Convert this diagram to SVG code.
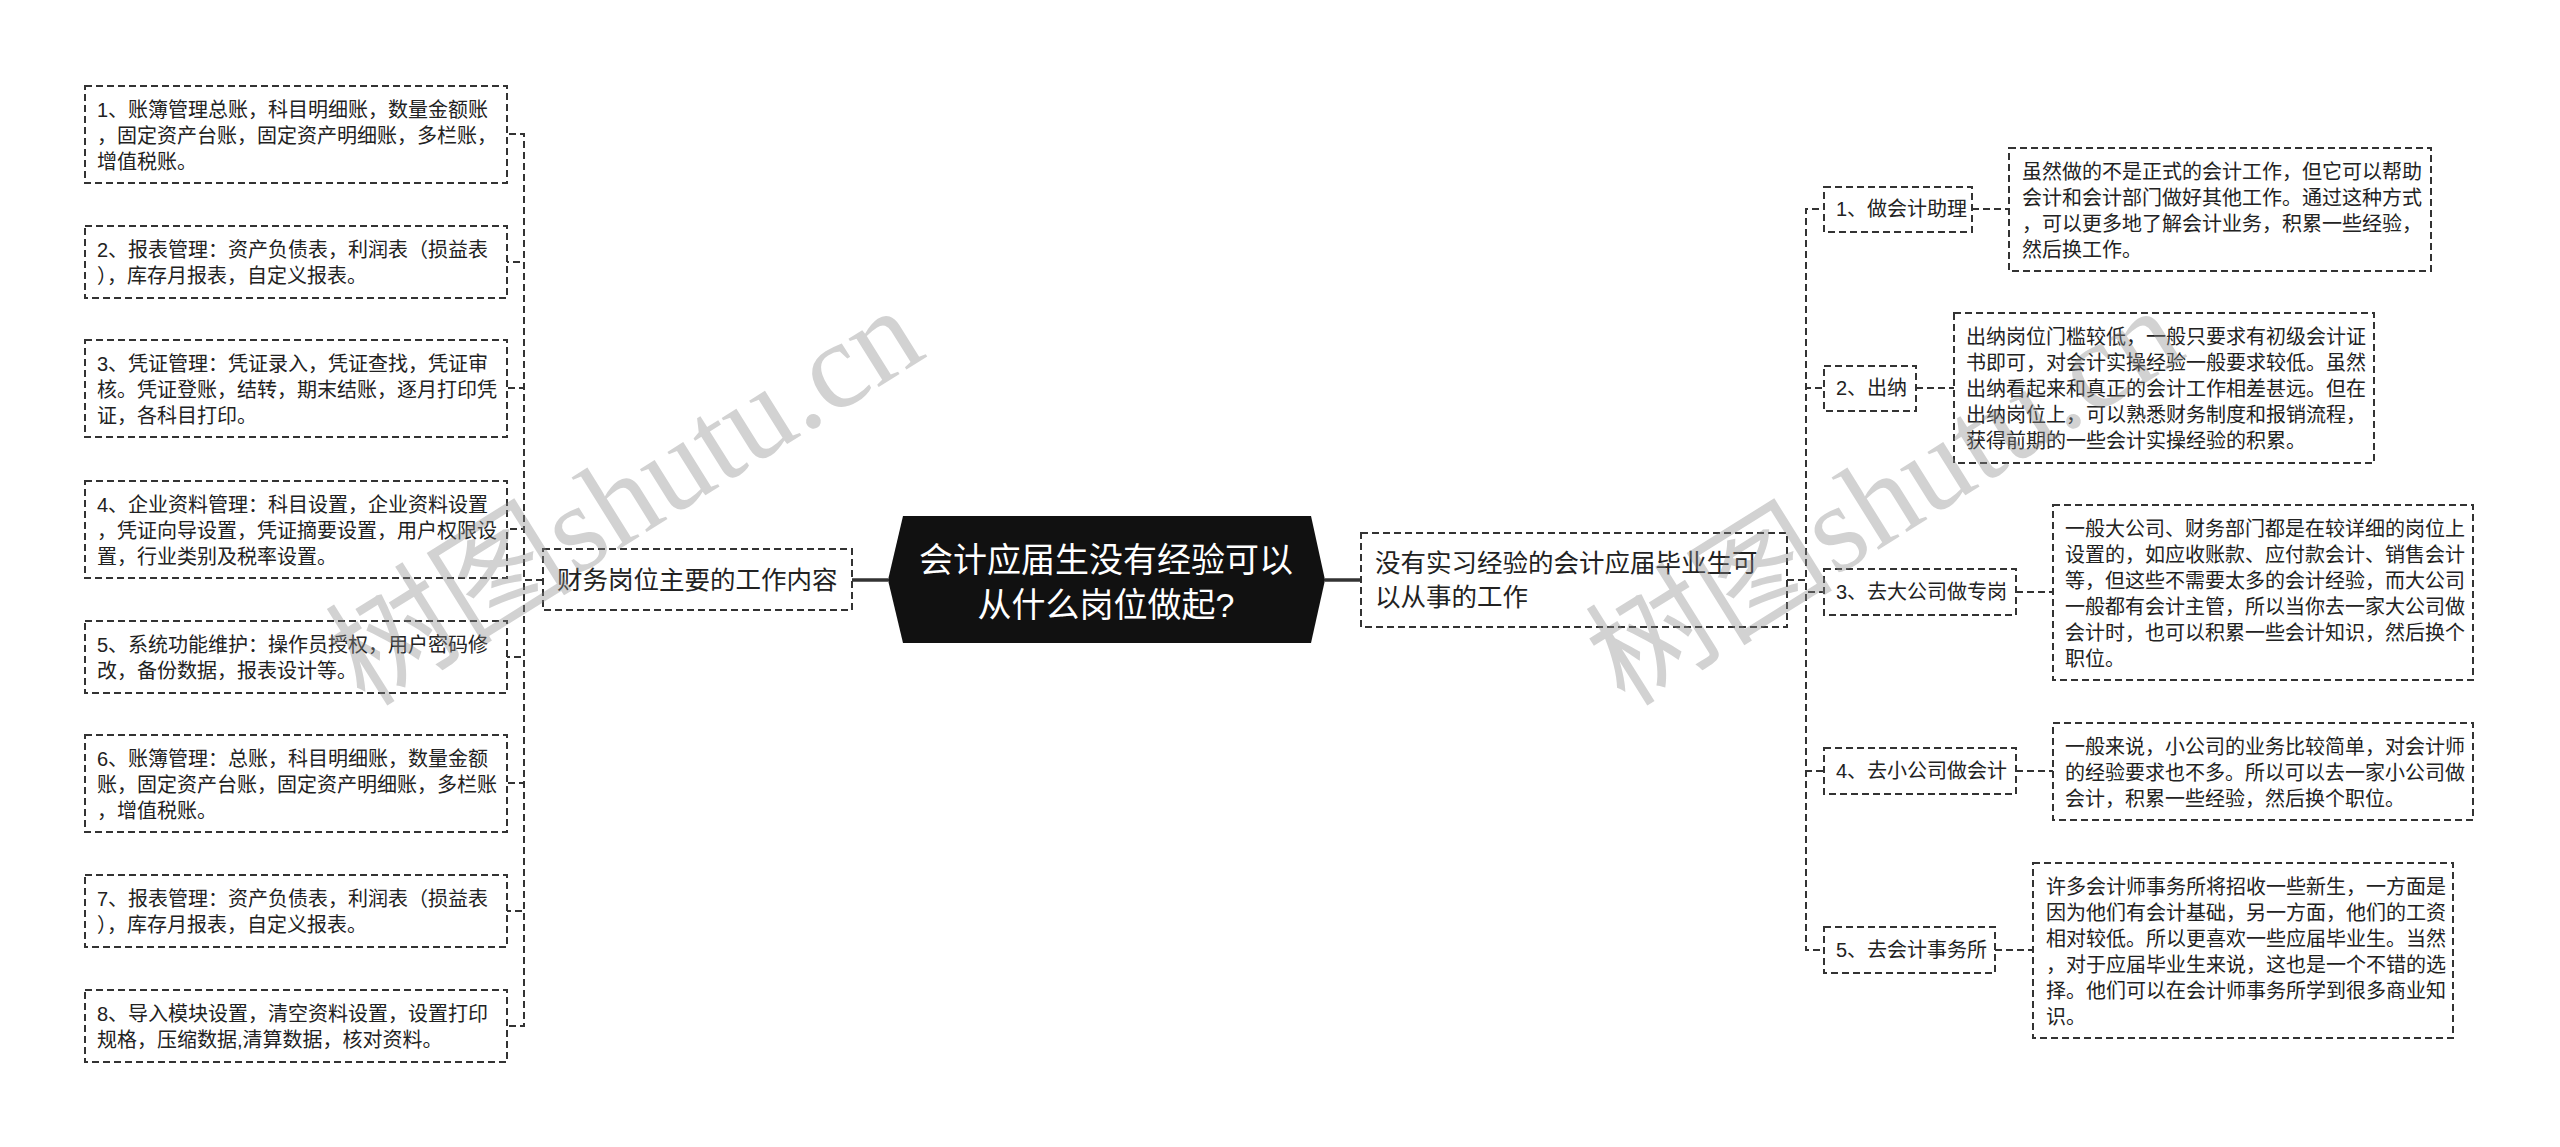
<svg xmlns="http://www.w3.org/2000/svg" width="2560" height="1147" viewBox="0 0 2560 1147">
<style>
.box{fill:#fff;stroke:#333;stroke-width:2;stroke-dasharray:7 4;}
.con{fill:none;stroke:#333;stroke-width:2;stroke-dasharray:7 4;}
.solid{fill:none;stroke:#333;stroke-width:3.5;}
.t{font-family:"Liberation Sans","Noto Sans CJK SC",sans-serif;font-size:20px;fill:#222;}
.tm{font-family:"Liberation Sans","Noto Sans CJK SC",sans-serif;font-size:25.5px;fill:#222;}
.tc{font-family:"Liberation Sans","Noto Sans CJK SC",sans-serif;font-size:34px;fill:#fff;text-anchor:middle;}
.wm{font-family:"Liberation Serif","Noto Sans CJK SC",serif;font-size:124px;fill:#8a8a8a;opacity:0.38;}
</style>
<rect width="2560" height="1147" fill="#fff"/>
<g id="connectors">
<path class="solid" d="M852,580 H888"/>
<path class="solid" d="M1325,580 H1361"/>
<path class="con" d="M543,580 H524 V134 H507"/>
<path class="con" d="M543,580 H524 V262 H507"/>
<path class="con" d="M543,580 H524 V388 H507"/>
<path class="con" d="M543,580 H524 V529 H507"/>
<path class="con" d="M543,580 H524 V657 H507"/>
<path class="con" d="M543,580 H524 V783 H507"/>
<path class="con" d="M543,580 H524 V911 H507"/>
<path class="con" d="M543,580 H524 V1026 H507"/>
<path class="con" d="M1787,580 H1806 V209 H1824"/>
<path class="con" d="M1787,580 H1806 V388 H1824"/>
<path class="con" d="M1787,580 H1806 V592 H1824"/>
<path class="con" d="M1787,580 H1806 V771 H1824"/>
<path class="con" d="M1787,580 H1806 V950 H1824"/>
<path class="con" d="M1972,209 H2009"/>
<path class="con" d="M1916,388 H1954"/>
<path class="con" d="M2016,592 H2053"/>
<path class="con" d="M2016,771 H2053"/>
<path class="con" d="M1995,950 H2033"/>
</g>
<g id="root">
<path d="M888,580 L903,516 H1311 L1325,580 L1311,643 H903 Z" fill="#111"/>
<text class="tc" x="1106" y="572">会计应届生没有经验可以</text>
<text class="tc" x="1106" y="617">从什么岗位做起?</text>
</g>
<g id="left-main">
<rect class="box" x="543" y="549" width="309" height="61"/>
<text class="tm" x="557" y="589">财务岗位主要的工作内容</text>
</g>
<g id="left-1">
<rect class="box" x="85" y="86" width="422" height="97"/>
<text class="t" x="97"><tspan x="97" y="117">1、账簿管理总账，科目明细账，数量金额账</tspan><tspan x="97" y="143">，固定资产台账，固定资产明细账，多栏账，</tspan><tspan x="97" y="169">增值税账。</tspan></text>
</g>
<g id="left-2">
<rect class="box" x="85" y="226" width="422" height="72"/>
<text class="t"><tspan x="97" y="257">2、报表管理：资产负债表，利润表（损益表</tspan><tspan x="97" y="283">），库存月报表，自定义报表。</tspan></text>
</g>
<g id="left-3">
<rect class="box" x="85" y="340" width="422" height="97"/>
<text class="t"><tspan x="97" y="371">3、凭证管理：凭证录入，凭证查找，凭证审</tspan><tspan x="97" y="397">核。凭证登账，结转，期末结账，逐月打印凭</tspan><tspan x="97" y="423">证，各科目打印。</tspan></text>
</g>
<g id="left-4">
<rect class="box" x="85" y="481" width="422" height="97"/>
<text class="t"><tspan x="97" y="512">4、企业资料管理：科目设置，企业资料设置</tspan><tspan x="97" y="538">，凭证向导设置，凭证摘要设置，用户权限设</tspan><tspan x="97" y="564">置，行业类别及税率设置。</tspan></text>
</g>
<g id="left-5">
<rect class="box" x="85" y="621" width="422" height="72"/>
<text class="t"><tspan x="97" y="652">5、系统功能维护：操作员授权，用户密码修</tspan><tspan x="97" y="678">改，备份数据，报表设计等。</tspan></text>
</g>
<g id="left-6">
<rect class="box" x="85" y="735" width="422" height="97"/>
<text class="t"><tspan x="97" y="766">6、账簿管理：总账，科目明细账，数量金额</tspan><tspan x="97" y="792">账，固定资产台账，固定资产明细账，多栏账</tspan><tspan x="97" y="818">，增值税账。</tspan></text>
</g>
<g id="left-7">
<rect class="box" x="85" y="875" width="422" height="72"/>
<text class="t"><tspan x="97" y="906">7、报表管理：资产负债表，利润表（损益表</tspan><tspan x="97" y="932">），库存月报表，自定义报表。</tspan></text>
</g>
<g id="left-8">
<rect class="box" x="85" y="990" width="422" height="72"/>
<text class="t"><tspan x="97" y="1021">8、导入模块设置，清空资料设置，设置打印</tspan><tspan x="97" y="1047">规格，压缩数据,清算数据，核对资料。</tspan></text>
</g>
<g id="right-main">
<rect class="box" x="1361" y="533" width="426" height="94"/>
<text class="tm"><tspan x="1375" y="572">没有实习经验的会计应届毕业生可</tspan><tspan x="1375" y="606">以从事的工作</tspan></text>
</g>
<g id="branch-1">
<rect class="box" x="1824" y="187" width="148" height="45"/>
<text class="t" x="1836" y="216">1、做会计助理</text>
</g>
<g id="detail-1">
<rect class="box" x="2009" y="148" width="422" height="123"/>
<text class="t"><tspan x="2022" y="179">虽然做的不是正式的会计工作，但它可以帮助</tspan><tspan x="2022" y="205">会计和会计部门做好其他工作。通过这种方式</tspan><tspan x="2022" y="231">，可以更多地了解会计业务，积累一些经验，</tspan><tspan x="2022" y="257">然后换工作。</tspan></text>
</g>
<g id="branch-2">
<rect class="box" x="1824" y="366" width="92" height="45"/>
<text class="t" x="1836" y="395">2、出纳</text>
</g>
<g id="detail-2">
<rect class="box" x="1954" y="313" width="420" height="150"/>
<text class="t"><tspan x="1966" y="344">出纳岗位门槛较低，一般只要求有初级会计证</tspan><tspan x="1966" y="370">书即可，对会计实操经验一般要求较低。虽然</tspan><tspan x="1966" y="396">出纳看起来和真正的会计工作相差甚远。但在</tspan><tspan x="1966" y="422">出纳岗位上，可以熟悉财务制度和报销流程，</tspan><tspan x="1966" y="448">获得前期的一些会计实操经验的积累。</tspan></text>
</g>
<g id="branch-3">
<rect class="box" x="1824" y="569" width="192" height="46"/>
<text class="t" x="1836" y="599">3、去大公司做专岗</text>
</g>
<g id="detail-3">
<rect class="box" x="2053" y="505" width="420" height="175"/>
<text class="t"><tspan x="2065" y="536">一般大公司、财务部门都是在较详细的岗位上</tspan><tspan x="2065" y="562">设置的，如应收账款、应付款会计、销售会计</tspan><tspan x="2065" y="588">等，但这些不需要太多的会计经验，而大公司</tspan><tspan x="2065" y="614">一般都有会计主管，所以当你去一家大公司做</tspan><tspan x="2065" y="640">会计时，也可以积累一些会计知识，然后换个</tspan><tspan x="2065" y="666">职位。</tspan></text>
</g>
<g id="branch-4">
<rect class="box" x="1824" y="748" width="192" height="46"/>
<text class="t" x="1836" y="778">4、去小公司做会计</text>
</g>
<g id="detail-4">
<rect class="box" x="2053" y="723" width="420" height="97"/>
<text class="t"><tspan x="2065" y="754">一般来说，小公司的业务比较简单，对会计师</tspan><tspan x="2065" y="780">的经验要求也不多。所以可以去一家小公司做</tspan><tspan x="2065" y="806">会计，积累一些经验，然后换个职位。</tspan></text>
</g>
<g id="branch-5">
<rect class="box" x="1824" y="927" width="171" height="46"/>
<text class="t" x="1836" y="957">5、去会计事务所</text>
</g>
<g id="detail-5">
<rect class="box" x="2033" y="863" width="420" height="175"/>
<text class="t"><tspan x="2046" y="894">许多会计师事务所将招收一些新生，一方面是</tspan><tspan x="2046" y="920">因为他们有会计基础，另一方面，他们的工资</tspan><tspan x="2046" y="946">相对较低。所以更喜欢一些应届毕业生。当然</tspan><tspan x="2046" y="972">，对于应届毕业生来说，这也是一个不错的选</tspan><tspan x="2046" y="998">择。他们可以在会计师事务所学到很多商业知</tspan><tspan x="2046" y="1024">识。</tspan></text>
</g>
<g id="watermark">
<text class="wm" transform="translate(365,708) rotate(-32)">树图shutu.cn</text>
<text class="wm" transform="translate(1625,708) rotate(-32)">树图shutu.cn</text>
</g>
</svg>
